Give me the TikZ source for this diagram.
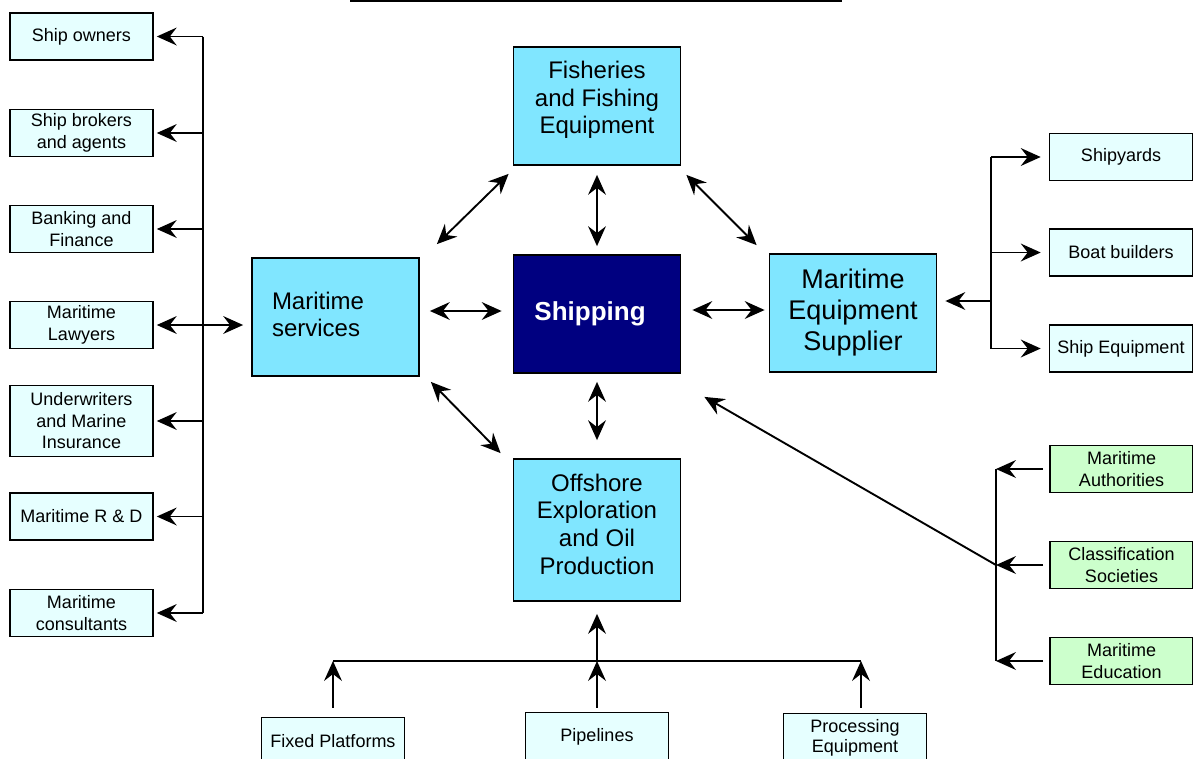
\documentclass[tikz,border=0pt]{standalone}
\usepackage{fontspec}
\setmainfont{Liberation Sans}
\usetikzlibrary{arrows.meta}
\definecolor{midfill}{HTML}{80E6FF}
\definecolor{palefill}{HTML}{E6FFFF}
\definecolor{greenfill}{HTML}{CCFFCC}
\definecolor{navyfill}{HTML}{000080}
\begin{document}
\begin{tikzpicture}[x=1pt,y=-1pt,
  bigbox/.style={draw=black, line width=1.8pt, fill=midfill, minimum width=167pt, minimum height=118pt, inner sep=0pt, align=center, font=\fontsize{24}{27.5}\selectfont},
  bigtext/.style={inner sep=0pt, align=center, font=\fontsize{24}{27.5}\selectfont},
  smallbox/.style={draw=black, line width=1.6pt, fill=palefill, minimum width=143pt, minimum height=47pt, inner sep=0pt, align=center, font=\fontsize{18}{21.5}\selectfont},
  greenbox/.style={smallbox, fill=greenfill},
  conline/.style={line width=1.9pt},
  con/.style={conline, -{Stealth[length=20pt,width=18pt,inset=7pt,line width=0pt]}},
  dcon/.style={conline, {Stealth[length=20pt,width=18pt,inset=7pt,line width=0pt]}-{Stealth[length=20pt,width=18pt,inset=7pt,line width=0pt]}}
]
\useasboundingbox (0,0) rectangle (1193,758);
\clip (0,0) rectangle (1193,758);

% top rule
\coordinate (tl) at (350,1);
\coordinate (tr) at (842,1);
\draw[line width=2.2pt] (tl) -- (tr);

% left column
\node[smallbox] (owners) at (81.5,36.5) {Ship owners};
\node[smallbox] (brokers) at (81.5,133) {Ship brokers\\and agents};
\node[smallbox] (banking) at (81.5,229) {Banking and\\Finance};
\node[smallbox] (lawyers) at (81.5,325) {Maritime\\Lawyers};
\node[smallbox, minimum height=71pt] (under) at (81.5,421) {Underwriters\\and Marine\\Insurance};
\node[smallbox] (rd) at (81.5,516.5) {Maritime R \& D};
\node[smallbox] (consult) at (81.5,613) {Maritime\\consultants};

% central boxes
\node[bigbox] (msvc) at (335.5,317) {};
\node[bigtext, text width=127pt, align=left] (msvcT) at (335.5,314.5) {Maritime\\services};
\node[bigbox] (fish) at (597,106) {};
\node[bigtext] (fishT) at (597,100) {Fisheries\\and Fishing\\Equipment};
\node[bigbox, fill=navyfill, text=white, font=\fontsize{26}{30}\bfseries] (ship) at (597,314) {Shipping\hspace*{14pt}};
\node[bigbox, font=\fontsize{27}{31}\selectfont] (mes) at (853,313) {Maritime\\Equipment\\Supplier};
\node[bigbox, minimum height=142pt] (off) at (597,530) {};
\node[bigtext, font=\fontsize{24}{27.7}\selectfont] (offT) at (597,524) {Offshore\\Exploration\\and Oil\\Production};

% right column
\node[smallbox] (yards) at (1121,157) {Shipyards};
\node[smallbox] (boat) at (1121,252.5) {Boat builders};
\node[smallbox] (equip) at (1121,348.5) {Ship Equipment};

% green column
\node[greenbox] (auth) at (1121.5,469) {Maritime\\Authorities};
\node[greenbox] (class) at (1121.5,565) {Classification\\Societies};
\node[greenbox] (edu) at (1121.5,661) {Maritime\\Education};

% bottom row
\node[smallbox] (fixed) at (333,741) {Fixed Platforms};
\node[smallbox, minimum height=49pt] (pipe) at (597,737) {Pipelines};
\node[smallbox, minimum height=49pt, font=\fontsize{18}{20.5}\selectfont] (proc) at (855,738) {Processing\\Equipment};

% left tree
\coordinate (lt) at (203,36.5);
\coordinate (lb) at (203,613);
\draw[conline] (lt) -- (lb);
\foreach \n in {owners,brokers,banking,under,rd,consult}
  \draw[con, shorten >=3pt] (\n.east -| lt) -- (\n.east);
\draw[dcon, shorten <=3pt, shorten >=8pt] (lawyers.east) -- (lawyers.east -| msvc.west);

% central connectors
\draw[dcon, shorten <=9pt, shorten >=8pt] (fish.south) -- (ship.north);
\draw[dcon, shorten <=8pt, shorten >=18pt] (ship.south) -- (off.north);
\draw[dcon] ([xshift=10pt,yshift=6pt]msvc.east) -- ([xshift=-11pt,yshift=3pt]ship.west);
\draw[dcon] ([xshift=11pt,yshift=4pt]ship.east) -- ([xshift=-4pt,yshift=3pt]mes.west);
\draw[dcon] ([xshift=-4pt,yshift=-8pt]fish.south west) -- ([xshift=17pt,yshift=13pt]msvc.north east);
\draw[dcon] ([xshift=5pt,yshift=-9pt]fish.south east) -- ([xshift=-12pt,yshift=8pt]mes.north west);
\draw[dcon] ([xshift=11pt,yshift=-5pt]msvc.south east) -- ([xshift=-12pt,yshift=5pt]off.north west);

% right tree
\coordinate (rb) at (991,301);
\draw[conline] (yards.west -| rb) -- (equip.west -| rb);
\draw[con, shorten >=8pt] (rb) -- (rb -| mes.east);
\foreach \n in {yards,boat,equip}
  \draw[con, shorten >=8pt] (\n.west -| rb) -- (\n.west);

% green tree
\coordinate (gb) at (996,565);
\draw[conline] (auth.west -| gb) -- (edu.west -| gb);
\foreach \n in {auth,class,edu}
  \draw[con] ([xshift=-6pt]\n.west) -- (\n.west -| gb);
\draw[con] (gb) -- ([xshift=23pt,yshift=-23pt]ship.south east);

% bottom tree
\coordinate (bl) at (333,661);
\coordinate (bm) at (597,661);
\coordinate (br) at (861,661);
\draw[conline] (bl) -- (br);
\draw[con] ([yshift=9pt]fixed.north) -- (bl);
\draw[con] ([yshift=4pt]pipe.north) -- (bm);
\draw[con] ([xshift=6pt,yshift=5pt]proc.north) -- (br);
\draw[con, shorten >=12pt] (bm) -- (off.south);
\end{tikzpicture}
\end{document}
